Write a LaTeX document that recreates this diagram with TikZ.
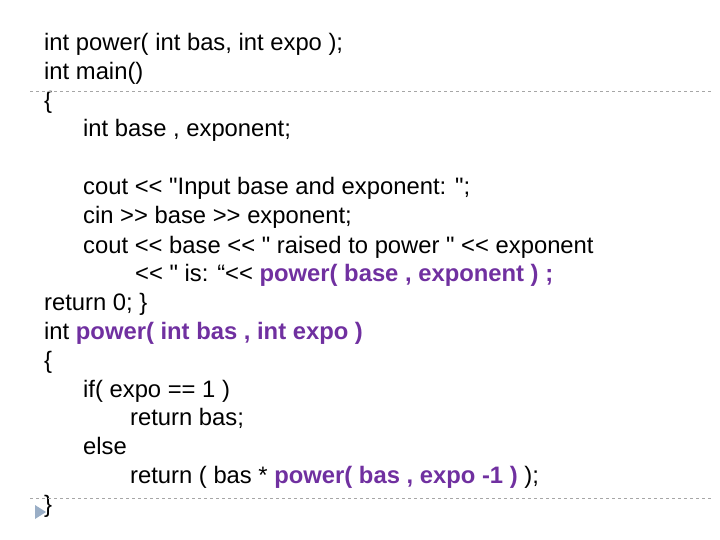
\documentclass[tikz,border=0pt]{standalone}
\usepackage{fontspec}
\setmainfont{Liberation Sans}[Ligatures=TeXOff]
\definecolor{kw}{HTML}{7030A0}
\definecolor{tri}{HTML}{9AAEC6}
\begin{document}
\begin{tikzpicture}[x=1pt,y=-1pt,
  ln/.style={anchor=base west,inner sep=0pt,font=\fontsize{23.8}{28}\selectfont},
  hl/.style={draw=gray!70,dashed,line width=0.6pt}]
\useasboundingbox (0,0) rectangle (720,540);
\newcommand{\pp}[1]{\textcolor{kw}{\textbf{#1}}}
\node[ln] (l1) at (44,51) {int power( int bas, int expo );};
\node[ln] (l2) at (44,80) {int main()};
\node[ln] (l3) at (44,109) {\{};
\node[ln] (l4) at (83,137) {int base , exponent;};
\node[ln] (l5) at (83,195) {cout << "Input base and exponent: ";};
\node[ln] (l6) at (83,224) {cin >> base >> exponent;};
\node[ln] (l7) at (83,253) {cout << base << " raised to power " << exponent};
\node[ln] (l8) at (135,281) {<< " is: “<< \pp{power( base , exponent ) ;}};
\node[ln] (l9) at (44,310) {return 0; \}};
\node[ln] (l10) at (44,339) {int \pp{power( int bas , int expo )}};
\node[ln] (l11) at (44,368) {\{};
\node[ln] (l12) at (83,397) {if( expo == 1 )};
\node[ln] (l13) at (130,425) {return bas;};
\node[ln] (l14) at (83,454) {else};
\node[ln] (l15) at (130,483) {return ( bas * \pp{power( bas , expo -1 )} );};
\node[ln] (l16) at (44,512) {\}};
\coordinate (a1) at (30,91); \coordinate (b1) at (712,91);
\coordinate (a2) at (30,498); \coordinate (b2) at (712,498);
\draw[hl] (a1) -- (b1);
\draw[hl] (a2) -- (b2);
\fill[tri] (35,505) -- (46,512) -- (35,519) -- cycle;
\end{tikzpicture}
\end{document}
